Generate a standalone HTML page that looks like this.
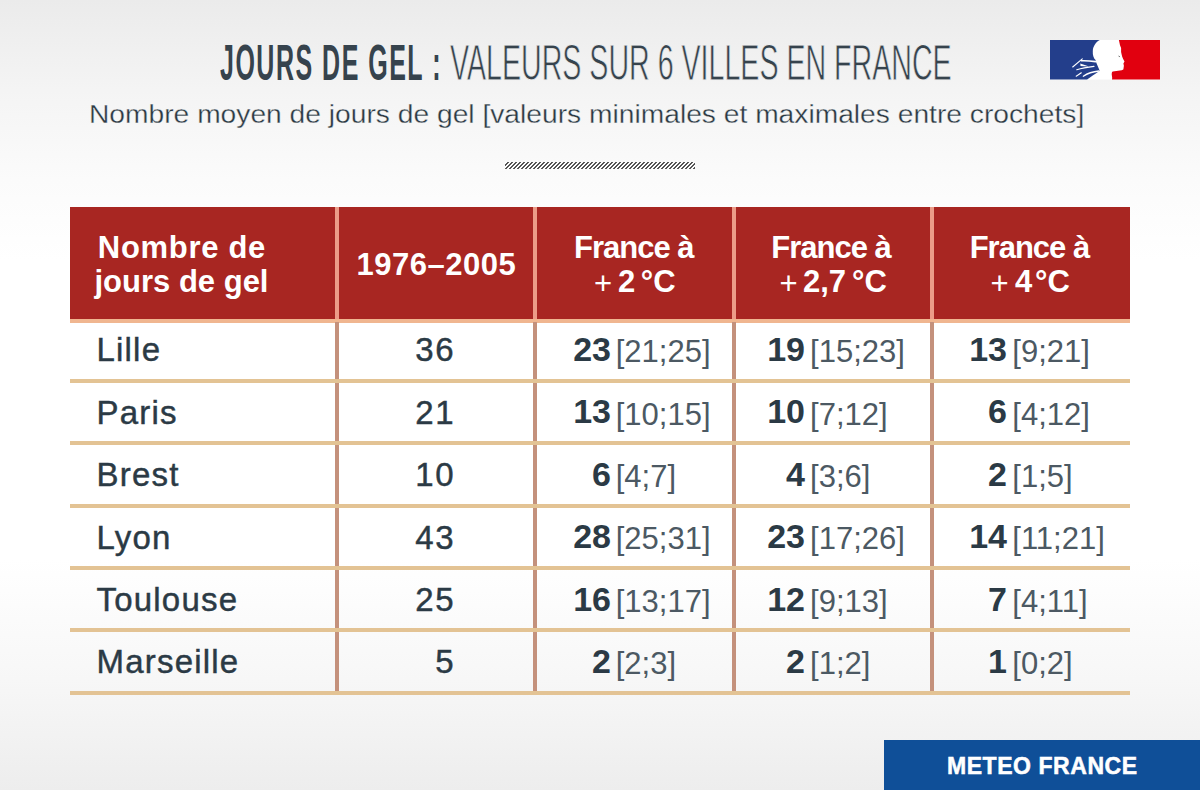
<!DOCTYPE html>
<html><head><meta charset="utf-8">
<style>
html,body{margin:0;padding:0;}
body{width:1200px;height:790px;position:relative;overflow:hidden;
 font-family:"Liberation Sans",sans-serif;
 background:linear-gradient(to bottom,#ebebeb 0px,#f4f4f4 90px,#fbfbfb 180px,#ffffff 260px,#ffffff 560px,#f7f7f7 680px,#ededed 790px);}
.a{position:absolute;white-space:nowrap;line-height:1;}
#t1{left:220px;top:37.6px;font-weight:bold;font-size:50px;letter-spacing:3px;color:#36434d;transform-origin:0 0;transform:scaleX(0.5);}
#t2{left:449.6px;top:37.6px;font-weight:normal;font-size:50px;color:#36434d;transform-origin:0 0;transform:scaleX(0.5719);-webkit-text-stroke:0.8px #f1f1f1;}
#sub{left:88.5px;top:102px;font-size:25px;color:#2b3943;transform-origin:0 0;transform:scaleX(1.128);-webkit-text-stroke:0.3px #f6f6f6;}
#hatch{left:505px;top:162px;width:190px;height:6.5px;
 background:repeating-linear-gradient(135deg,#fdfdfd 0px,#fdfdfd 1.45px,#555 1.45px,#555 2.83px);}
.hdr{position:absolute;left:70px;top:207px;width:1060px;height:112px;background:#a82622;}
.hv{position:absolute;top:207px;height:112px;width:4px;background:#ec9c88;}
.hl{position:absolute;left:70px;width:1060px;height:4px;background:#e3c394;}
.bv{position:absolute;top:322px;height:369px;width:4px;background:#c4917c;}
.ht{position:absolute;color:#fff;font-weight:bold;font-size:31px;line-height:1;white-space:nowrap;}
.c{text-align:center;}
.city{position:absolute;left:96.5px;font-weight:normal;-webkit-text-stroke:0.45px #2b3a45;letter-spacing:1.2px;font-size:33px;color:#2b3a45;line-height:1;white-space:nowrap;}
.n2{position:absolute;right:745px;font-weight:normal;-webkit-text-stroke:0.45px #2b3a45;letter-spacing:1.5px;font-size:33px;color:#2b3a45;line-height:1;white-space:nowrap;text-align:right;}
.nb{position:absolute;font-weight:bold;font-size:34px;color:#2b3a45;line-height:1;white-space:nowrap;text-align:right;}
.br{position:absolute;font-weight:normal;font-size:31px;color:#4c5963;line-height:1;white-space:nowrap;}
#mf{position:absolute;left:884px;top:740px;width:316px;height:50px;background:#0f4f98;}
#mft{position:absolute;left:947px;top:754.5px;font-weight:bold;font-size:23px;letter-spacing:0.55px;-webkit-text-stroke:0.5px #fff;color:#fff;line-height:1;white-space:nowrap;}
</style></head><body>
<div class="a" id="t1">JOURS DE GEL :</div>
<div class="a" id="t2">VALEURS SUR 6 VILLES EN FRANCE</div>
<div class="a" id="sub">Nombre moyen de jours de gel [valeurs minimales et maximales entre crochets]</div>
<div class="a" id="hatch"></div>

<!-- logo -->
<svg style="position:absolute;left:1050px;top:40px" width="110" height="40" viewBox="0 0 110 40">
 <rect x="0" y="0" width="110" height="39.6" fill="#ffffff"/>
 <path d="M0 0 L49.8 0 C46 2 43 6 42.8 11.2 C42.6 15 43.5 18 45.6 20.1 L46 22 L49.7 30.7 C45 34 40 37 37.1 39.6 L0 39.6 Z" fill="#233e8b"/>
 <path d="M68.9 0 L110 0 L110 39.6 L62 39.6 L62.2 38 L61.7 34.2 C61.8 32 62.3 31.5 62.8 31.4 L71.7 30.3 C72.5 30 73.4 29.6 73.4 29.2 L73.9 25.8 L73.4 23.6 L74.5 21.4 C73.5 19.5 72 17 71.7 14.7 L71.1 11.9 L71.1 8 L70 5.2 Z" fill="#e1000f"/>
 <g stroke="#ffffff" fill="none" stroke-linecap="round">
  <path d="M22.7 27 L32.3 18.8" stroke-width="1.1"/>
  <path d="M31.3 20.8 C36 20.5 41 21 45.6 21.6" stroke-width="1.6"/>
  <path d="M26.8 29.7 C32 28 38 27 44 26.3" stroke-width="1.2"/>
  <path d="M26.2 36.2 L31.3 32.8" stroke-width="1.1"/>
  <path d="M33.3 36.2 C38 33 44 31.5 49 31" stroke-width="1.3"/>
 </g>
 <path d="M30.3 23.5 L39.1 26.6 L30.5 26 Z" fill="#ffffff"/>
 <path d="M68.5 16 L70 16.8" stroke="#555" stroke-width="0.8"/>
</svg>

<div class="hdr"></div>
<div class="hv" style="left:335.2px"></div>
<div class="hv" style="left:533.3px"></div>
<div class="hv" style="left:731.6px"></div>
<div class="hv" style="left:930px"></div>
<div class="hl" style="top:318.6px;background:#f0b690"></div>
<div class="bv" style="left:335.2px"></div>
<div class="bv" style="left:533.3px"></div>
<div class="bv" style="left:731.6px"></div>
<div class="bv" style="left:930px"></div>
<div class="hl" style="top:378.7px"></div>
<div class="hl" style="top:441.1px"></div>
<div class="hl" style="top:503.5px"></div>
<div class="hl" style="top:565.9px"></div>
<div class="hl" style="top:628.3px"></div>
<div class="hl" style="top:690.6px"></div>

<div class="ht" id="h1" style="left:97.8px;top:231.5px;letter-spacing:0.7px">Nombre de</div>
<div class="ht" id="h1b" style="left:94.5px;top:266px">jours de gel</div>
<div class="ht" id="h2" style="left:356.6px;top:248.5px;letter-spacing:0.5px">1976–2005</div>
<div class="ht" style="left:574px;top:231.5px;letter-spacing:-1px">France à</div>
<div class="ht" style="left:771.3px;top:231.5px;letter-spacing:-1px">France à</div>
<div class="ht" style="left:969.7px;top:231.5px;letter-spacing:-1px">France à</div>
<div class="ht" style="left:594px;top:268px;font-weight:normal">+</div>
<div class="ht" style="left:617.9px;top:265.5px">2</div>
<div class="ht" style="left:640.8px;top:265.5px">°C</div>
<div class="ht" style="left:779.5px;top:268px;font-weight:normal">+</div>
<div class="ht" style="left:803px;top:265.5px">2,7</div>
<div class="ht" style="left:852px;top:265.5px">°C</div>
<div class="ht" style="left:990.4px;top:268px;font-weight:normal">+</div>
<div class="ht" style="left:1014.9px;top:265.5px">4</div>
<div class="ht" style="left:1035px;top:265.5px">°C</div>

<div id="body">
<div class="city" style="top:333.3px">Lille</div>
<div class="n2" style="top:333.3px">36</div>
<div class="nb" style="right:589px;top:332.0px">23</div><div class="br" style="left:615.7px;top:336.2px">[21;25]</div>
<div class="nb" style="right:395px;top:332.0px">19</div><div class="br" style="left:810.1px;top:336.2px">[15;23]</div>
<div class="nb" style="right:193px;top:332.0px">13</div><div class="br" style="left:1012.3px;top:336.2px">[9;21]</div>
<div class="city" style="top:395.7px">Paris</div>
<div class="n2" style="top:395.7px">21</div>
<div class="nb" style="right:589px;top:394.4px">13</div><div class="br" style="left:615.7px;top:398.6px">[10;15]</div>
<div class="nb" style="right:395px;top:394.4px">10</div><div class="br" style="left:810.1px;top:398.6px">[7;12]</div>
<div class="nb" style="right:193px;top:394.4px">6</div><div class="br" style="left:1012.3px;top:398.6px">[4;12]</div>
<div class="city" style="top:458.1px">Brest</div>
<div class="n2" style="top:458.1px">10</div>
<div class="nb" style="right:589px;top:456.8px">6</div><div class="br" style="left:615.7px;top:461.0px">[4;7]</div>
<div class="nb" style="right:395px;top:456.8px">4</div><div class="br" style="left:810.1px;top:461.0px">[3;6]</div>
<div class="nb" style="right:193px;top:456.8px">2</div><div class="br" style="left:1012.3px;top:461.0px">[1;5]</div>
<div class="city" style="top:520.5px">Lyon</div>
<div class="n2" style="top:520.5px">43</div>
<div class="nb" style="right:589px;top:519.2px">28</div><div class="br" style="left:615.7px;top:523.4px">[25;31]</div>
<div class="nb" style="right:395px;top:519.2px">23</div><div class="br" style="left:810.1px;top:523.4px">[17;26]</div>
<div class="nb" style="right:193px;top:519.2px">14</div><div class="br" style="left:1012.3px;top:523.4px">[11;21]</div>
<div class="city" style="top:582.9px">Toulouse</div>
<div class="n2" style="top:582.9px">25</div>
<div class="nb" style="right:589px;top:581.6px">16</div><div class="br" style="left:615.7px;top:585.8px">[13;17]</div>
<div class="nb" style="right:395px;top:581.6px">12</div><div class="br" style="left:810.1px;top:585.8px">[9;13]</div>
<div class="nb" style="right:193px;top:581.6px">7</div><div class="br" style="left:1012.3px;top:585.8px">[4;11]</div>
<div class="city" style="top:645.3px">Marseille</div>
<div class="n2" style="top:645.3px">5</div>
<div class="nb" style="right:589px;top:644.0px">2</div><div class="br" style="left:615.7px;top:648.2px">[2;3]</div>
<div class="nb" style="right:395px;top:644.0px">2</div><div class="br" style="left:810.1px;top:648.2px">[1;2]</div>
<div class="nb" style="right:193px;top:644.0px">1</div><div class="br" style="left:1012.3px;top:648.2px">[0;2]</div>
</div>

<div id="mf"></div>
<div id="mft">METEO FRANCE</div>
</body></html>
